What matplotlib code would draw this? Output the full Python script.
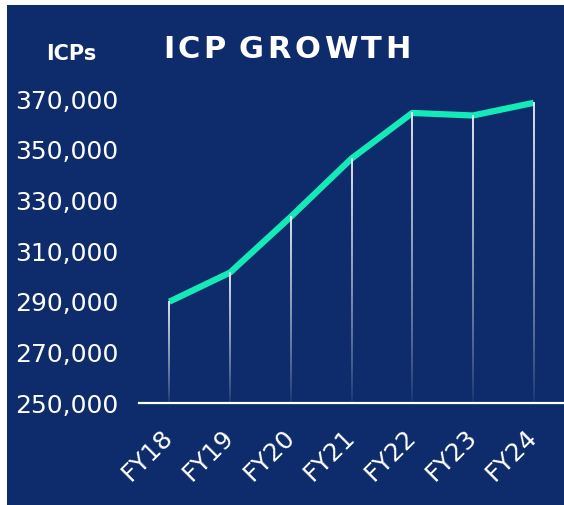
import matplotlib.pyplot as plt
import numpy as np
from matplotlib.patches import Rectangle

years = ["FY18", "FY19", "FY20", "FY21", "FY22", "FY23", "FY24"]
icps = [290000, 301500, 323500, 346500, 364500, 363500, 368500]
yticks = [250000, 270000, 290000, 310000, 330000, 350000, 370000]
title = "ICP GROWTH"

navy = "#0e2c6b"
mint = "#14eab8"

fig = plt.figure(figsize=(5.64, 5.05), dpi=100)
fig.patch.set_facecolor("white")
# navy panel, white strip on left and top
fig.patches.append(Rectangle((7 / 564, 0), 1, 1 - 5 / 505, transform=fig.transFigure,
                             facecolor=navy, edgecolor="none", zorder=-5))

ax = fig.add_axes([139 / 564, 102 / 505, 425 / 564, 0.627])
ax.patch.set_alpha(0)

x = np.arange(len(years))
base = yticks[0]

# drop lines: thin vertical gradient strips fading towards the baseline
grad = np.zeros((100, 1, 4))
grad[:, 0, :3] = (0.9, 0.92, 0.95)
grad[:, 0, 3] = 0.05 + 0.9 * np.linspace(1, 0, 100) ** 0.8
hw = 0.016
for xi, v in zip(x, icps):
    ax.imshow(grad, extent=[xi - hw, xi + hw, base, v], aspect="auto",
              interpolation="bilinear", zorder=3)

ax.plot(x, icps, color=mint, linewidth=4.5, solid_capstyle="butt", zorder=2)

ax.set_xlim(-0.5, 6.5)
ax.set_ylim(250000, 375000)
ax.set_yticks(yticks)
ax.set_yticklabels([f"{v:,}" for v in yticks])
ax.set_xticks(x)
ax.set_xticklabels(years, rotation=45, ha="right", va="center", rotation_mode="anchor")

for s in ["left", "right", "top"]:
    ax.spines[s].set_visible(False)
ax.spines["bottom"].set_color("white")
ax.spines["bottom"].set_linewidth(1.6)
ax.tick_params(axis="y", length=0, pad=15, colors="white", labelsize=18)
ax.tick_params(axis="x", length=0, pad=22, colors="white", labelsize=18)

# title with wide letter spacing, one glyph at a time
fig.canvas.draw()
r = fig.canvas.get_renderer()
px = 163
for ch in title:
    t = fig.text(px / 564, 1 - 50 / 505, ch, color="white", fontsize=22,
                 fontweight="bold", va="center", ha="left")
    w = t.get_window_extent(r).width if ch != " " else 6
    px += w + 3.5
fig.text(71 / 564, 1 - 54 / 505, "ICPs", color="white", fontsize=15,
         fontweight="bold", va="center", ha="center")

fig.savefig("out.png", dpi=100, facecolor=fig.get_facecolor())
